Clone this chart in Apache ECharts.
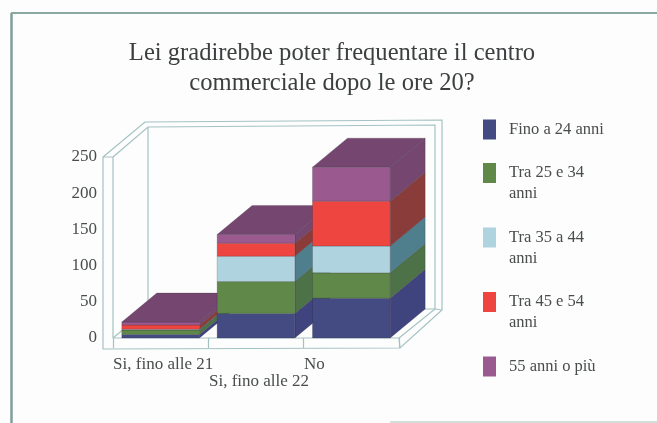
<!DOCTYPE html>
<html lang="it">
<head>
    <meta charset="UTF-8">
    <title>Lei gradirebbe</title>
    <style>
        html, body { margin: 0; padding: 0; background: #fff; }
        #main { width: 657px; height: 423px; }
    </style>
</head>
<body>
<div id="main"></div>
<script src="https://cdn.jsdelivr.net/npm/echarts@6/dist/echarts.min.js"></script>
<script>
    var titleText = 'Lei gradirebbe poter frequentare il centro\ncommerciale dopo le ore 20?';
    var categories = ['Si, fino alle 21', 'Si, fino alle 22', 'No'];
    var ageGroups = ['Fino a 24 anni', 'Tra 25 e 34 anni', 'Tra 35 a 44 anni', 'Tra 45 e 54 anni', '55 anni o più'];
    var legendLabels = ['Fino a 24 anni', '\nTra 25 e 34\nanni', '\nTra 35 a 44\nanni', '\nTra 45 e 54\nanni', '\n55 anni o più\n '];

    var fino24 = [5, 34, 55];
    var tra25 = [6, 44, 35];
    var tra35 = [1, 35, 37];
    var tra45 = [6, 18, 62];
    var oltre55 = [4, 12, 47];
    var allValues = [fino24, tra25, tra35, tra45, oltre55];

    var frontColors = ['#444a82', '#5f8849', '#afd3df', '#ee4540', '#9a5a90'];
    var sideColors = ['#3f437e', '#4e7247', '#4f7f8c', '#8a3c3a', '#744670'];
    var topColor = '#744670';
    var edgeColor = 'rgba(40,40,50,0.35)';
    var frameColor = '#a5c2c2';
    var serif = '"Liberation Serif", serif';
    var textColor = '#4a4d4d';

    // sideways and upward shift of the back face
    var depthX = 35;
    var depthY = 29;

    function renderBlock(params, api) {
        var s = params.seriesIndex;
        var top = api.coord([api.value(0), api.value(1)]);
        var base = api.coord([api.value(0), api.value(2)]);
        var w = api.size([1, 0])[0] * 0.815;
        var x0 = top[0] - w / 2;
        var x1 = top[0] + w / 2;
        var z = params.dataIndex * 10 + s;
        var children = [{
            type: 'polygon',
            z2: z,
            shape: { points: [[x1, base[1]], [x1 + depthX, base[1] - depthY], [x1 + depthX, top[1] - depthY], [x1, top[1]]] },
            style: { fill: sideColors[s], stroke: edgeColor, lineWidth: 0.6 }
        }, {
            type: 'polygon',
            z2: z,
            shape: { points: [[x0, base[1]], [x1, base[1]], [x1, top[1]], [x0, top[1]]] },
            style: { fill: frontColors[s], stroke: edgeColor, lineWidth: 0.6 }
        }];
        if (s === allValues.length - 1) {
            children.push({
                type: 'polygon',
                z2: z,
                shape: { points: [[x0, top[1]], [x1, top[1]], [x1 + depthX, top[1] - depthY], [x0 + depthX, top[1] - depthY]] },
                style: { fill: topColor, stroke: edgeColor, lineWidth: 0.6 }
            });
        }
        return { type: 'group', children: children };
    }

    // walls and floor of the box around the plot
    function renderFrame(params) {
        var g = params.coordSys;
        var l = g.x, r = g.x + g.width, t = g.y, b = g.y + g.height;
        var paths = [
            [[l, b], [l, t], [l - 10, t], [l - 10, b + 11], [r + 1, b + 10], [r + 43, b - 28], [r + 43, t - 37], [l + 32, t - 35], [l - 10, t]],
            [[l, t], [l + 35, t - 30], [r + 36, t - 32], [r + 36, b - 29], [r, b]],
            [[l + 35, t - 30], [l + 35, b - 29], [r + 36, b - 29]],
            [[l, b], [l + 35, b - 29]],
            [[l, b], [r, b], [r + 1, b + 10]],
            [[r + 36, b - 29], [r + 43, b - 28]]
        ];
        return {
            type: 'group',
            children: paths.map(function (p) {
                return {
                    type: 'polyline',
                    z2: -1,
                    shape: { points: p },
                    style: { fill: null, stroke: frameColor, lineWidth: 1.2 }
                };
            })
        };
    }

    var series = [];
    ageGroups.forEach(function (name, s) {
        var data = categories.map(function (c, i) {
            var base = 0;
            for (var k = 0; k < s; k++) {
                base += allValues[k][i];
            }
            return [i, base + allValues[s][i], base];
        });
        series.push({
            type: 'custom',
            name: name,
            renderItem: renderBlock,
            data: data,
            encode: { x: 0, y: 1 },
            itemStyle: { color: frontColors[s] },
            silent: true
        });
    });
    series.push({
        type: 'custom',
        name: 'box',
        renderItem: renderFrame,
        data: [[0, 0]],
        encode: { x: 0, y: 1 },
        silent: true
    });

    var labelFont = { fontFamily: serif, fontSize: 17, color: textColor };

    var myChart = echarts.init(document.getElementById('main'));
    myChart.setOption({
        backgroundColor: '#fdfdfd',
        animation: false,
        title: {
            text: titleText,
            left: 332,
            top: 39,
            textAlign: 'center',
            textStyle: {
                fontFamily: serif,
                fontSize: 24.6,
                fontWeight: 'normal',
                color: '#3c3f3f',
                lineHeight: 30
            },
            padding: 0
        },
        legend: {
            data: ageGroups,
            orient: 'vertical',
            left: 483,
            top: 119,
            height: 300,
            padding: 0,
            itemWidth: 13,
            itemHeight: 20,
            itemGap: 1.5,
            icon: 'rect',
            selectedMode: false,
            formatter: function (name) {
                return legendLabels[ageGroups.indexOf(name)];
            },
            textStyle: { fontFamily: serif, fontSize: 16.5, color: textColor, lineHeight: 21, padding: [0, 0, 0, 8] }
        },
        grid: { left: 113, top: 157, width: 286, height: 181 },
        xAxis: {
            type: 'category',
            data: categories,
            axisLine: { show: false },
            axisTick: { show: true, length: 10, lineStyle: { color: frameColor, width: 1.2 } },
            axisLabel: {
                interval: 0,
                margin: 18,
                formatter: function (value, index) {
                    return '{c' + index + '|' + value + '}';
                },
                rich: {
                    c0: Object.assign({ padding: [0, 0, 0, 5] }, labelFont),
                    c1: Object.assign({ padding: [17, 0, 0, 6] }, labelFont),
                    c2: Object.assign({ padding: [0, 74, 0, 0] }, labelFont)
                }
            }
        },
        yAxis: {
            type: 'value',
            min: 0,
            max: 250,
            interval: 50,
            axisLine: { show: false },
            axisTick: { show: false },
            splitLine: { show: false },
            axisLabel: { margin: 16, fontFamily: serif, fontSize: 17, color: textColor, padding: [5, 0, 0, 0] }
        },
        // page border, part of the scanned slide
        graphic: [
            { type: 'line', silent: true, shape: { x1: 11.5, y1: 13, x2: 11.5, y2: 423 }, style: { stroke: '#7f9f9a', lineWidth: 2.5 } },
            { type: 'line', silent: true, shape: { x1: 11, y1: 13, x2: 657, y2: 13 }, style: { stroke: '#8aa8a2', lineWidth: 2 } },
            { type: 'line', silent: true, shape: { x1: 390, y1: 422, x2: 657, y2: 422 }, style: { stroke: '#c4d4d0', lineWidth: 1.5 } }
        ],
        series: series
    });
</script>
</body>
</html>
